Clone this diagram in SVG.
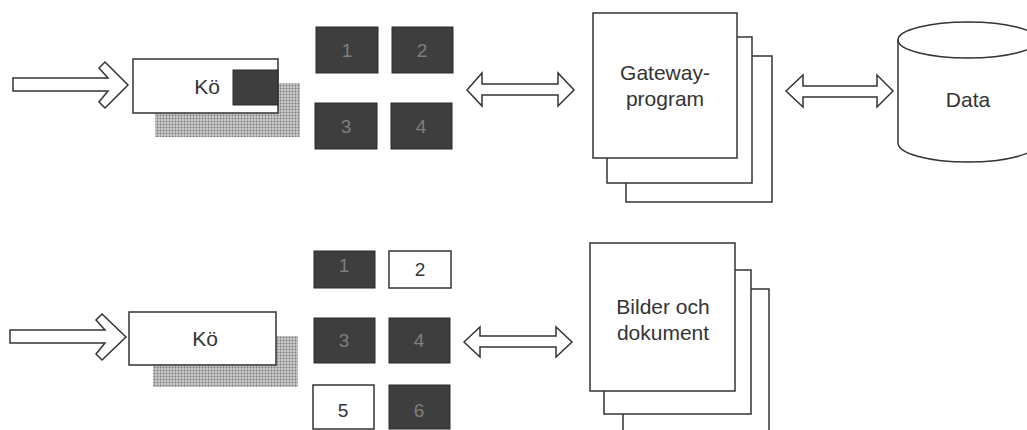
<svg xmlns="http://www.w3.org/2000/svg" width="1027" height="430" viewBox="0 0 1027 430">
  <style>
    .ln { fill: #fff; stroke: #333; stroke-width: 1.5; stroke-linejoin: miter; }
    .dark { fill: #3e3e3e; stroke: #2a2a2a; stroke-width: 1; }
    .shadow { fill: url(#halftone); }
    .lbl { font-family: "Liberation Sans", Arial, sans-serif; font-size: 21px; fill: #333; text-anchor: middle; }
    .num { font-family: "Liberation Sans", Arial, sans-serif; font-size: 19px; text-anchor: middle; }
    .numd { fill: #7e7e7e; }
    .numw { fill: #333; }
  </style>
  <defs>
    <pattern id="halftone" width="3" height="3" patternUnits="userSpaceOnUse">
      <rect width="3" height="3" fill="#cdcdcd"/>
      <circle cx="1.5" cy="1.5" r="1" fill="#7a7a7a"/>
    </pattern>
  </defs>

  <rect width="1027" height="430" fill="#fff"/>

  <!-- Connectors -->
  <g id="connectors">
    <polygon class="ln" points="13,78 108,78 99,68 105,62 128,85 105,108 99,102 108,91 13,91"/>
    <polygon class="ln" points="10,330 105,330 96,320 102,314 126,337 102,360 96,354 105,343 10,343"/>
    <polygon class="ln" points="467,90 482,73 482,84 558,84 558,73 574,90 558,106 558,95 482,95 482,106"/>
    <polygon class="ln" points="786,91 803,75 803,86 877,86 877,75 893,91 877,107 877,97 803,97 803,107"/>
    <polygon class="ln" points="464,342 480,327 480,336 556,336 556,327 572,342 556,357 556,347 480,347 480,357"/>
  </g>

  <!-- Top queue -->
  <g id="queue-top">
    <rect class="shadow" x="155" y="83" width="145" height="54"/>
    <rect class="ln" x="133" y="59" width="145" height="54"/>
    <rect class="dark" x="233" y="70" width="45" height="35"/>
    <text class="lbl" x="207" y="94">Kö</text>
  </g>

  <!-- Top blocks -->
  <g id="blocks-top">
    <rect class="dark" x="316" y="27" width="62" height="46"/>
    <text class="num numd" x="347" y="57">1</text>
    <rect class="dark" x="392" y="27" width="61" height="46"/>
    <text class="num numd" x="422" y="57">2</text>
    <rect class="dark" x="315" y="103" width="62" height="46"/>
    <text class="num numd" x="346" y="133">3</text>
    <rect class="dark" x="391" y="103" width="61" height="46"/>
    <text class="num numd" x="421" y="133">4</text>
  </g>

  <!-- Gateway program stack -->
  <g id="gateway">
    <rect class="ln" x="626" y="56" width="146" height="146"/>
    <rect class="ln" x="607" y="37" width="145" height="146"/>
    <rect class="ln" x="593" y="13" width="144" height="145"/>
    <text class="lbl" x="665" y="80">Gateway-</text>
    <text class="lbl" x="665" y="106">program</text>
  </g>

  <!-- Data cylinder -->
  <g id="data">
    <path class="ln" d="M898,40 L898,143 A70,19 0 0 0 1038,143 L1038,40 Z"/>
    <ellipse class="ln" cx="968" cy="40" rx="70" ry="18"/>
    <text class="lbl" x="968" y="107">Data</text>
  </g>

  <!-- Bottom queue -->
  <g id="queue-bottom">
    <rect class="shadow" x="153" y="336" width="145" height="51"/>
    <rect class="ln" x="129" y="312" width="147" height="53"/>
    <text class="lbl" x="205" y="346">Kö</text>
  </g>

  <!-- Bottom blocks -->
  <g id="blocks-bottom">
    <rect class="dark" x="314" y="251" width="61" height="37"/>
    <text class="num numd" x="344" y="272">1</text>
    <rect class="ln" x="389" y="251" width="62" height="37"/>
    <text class="num numw" x="420" y="276">2</text>
    <rect class="dark" x="314" y="318" width="61" height="45"/>
    <text class="num numd" x="344" y="347">3</text>
    <rect class="dark" x="389" y="318" width="61" height="45"/>
    <text class="num numd" x="419" y="347">4</text>
    <rect class="ln" x="313" y="385" width="61" height="44"/>
    <text class="num numw" x="343" y="417">5</text>
    <rect class="dark" x="389" y="385" width="61" height="44"/>
    <text class="num numd" x="419" y="417">6</text>
  </g>

  <!-- Bilder och dokument stack -->
  <g id="bilder">
    <rect class="ln" x="623" y="289" width="146" height="151"/>
    <rect class="ln" x="604" y="270" width="147" height="144"/>
    <rect class="ln" x="590" y="243" width="145" height="148"/>
    <text class="lbl" x="663" y="314">Bilder och</text>
    <text class="lbl" x="663" y="340">dokument</text>
  </g>
</svg>
